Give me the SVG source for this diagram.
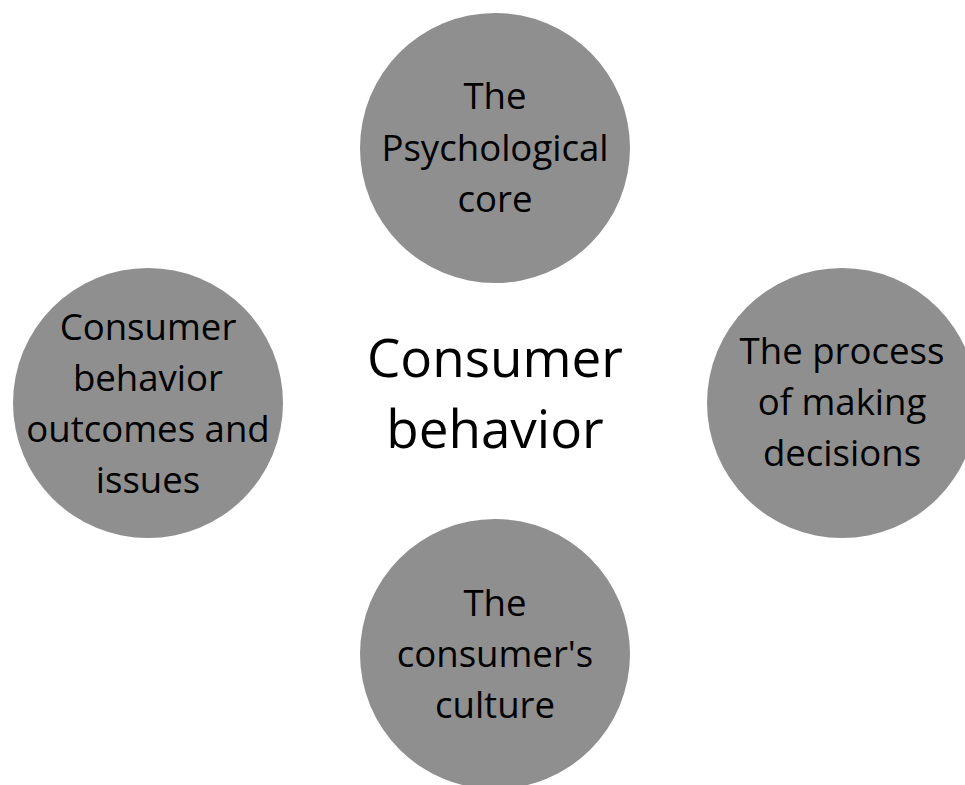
<svg xmlns="http://www.w3.org/2000/svg" width="965" height="785" viewBox="0 0 965 785">
  <style>
    .bubble { fill: #8f8f8f; }
    .label { font-family: "Open Sans", "Noto Sans", sans-serif; font-size: 36.6px; fill: #000; text-anchor: middle; }
    .title { font-family: "Open Sans", "Noto Sans", sans-serif; font-size: 53px; fill: #000; text-anchor: middle; }
  </style>
  <rect width="965" height="785" fill="#ffffff"/>
  <g id="connectors"/>
  <g id="center">
    <text class="title" x="495" y="377">Consumer</text>
    <text class="title" x="495" y="448">behavior</text>
  </g>
  <g id="psychological-core">
    <circle class="bubble" cx="495" cy="148" r="135"/>
    <text class="label" x="495" y="109">The</text>
    <text class="label" x="495" y="161">Psychological</text>
    <text class="label" x="495" y="212">core</text>
  </g>
  <g id="decision-process">
    <circle class="bubble" cx="842" cy="403" r="135"/>
    <text class="label" x="842" y="364">The process</text>
    <text class="label" x="842" y="415">of making</text>
    <text class="label" x="842" y="466">decisions</text>
  </g>
  <g id="outcomes-issues">
    <circle class="bubble" cx="148" cy="403" r="135"/>
    <text class="label" x="148" y="340">Consumer</text>
    <text class="label" x="148" y="391">behavior</text>
    <text class="label" x="148" y="442">outcomes and</text>
    <text class="label" x="148" y="493">issues</text>
  </g>
  <g id="consumer-culture">
    <circle class="bubble" cx="495" cy="654" r="135"/>
    <text class="label" x="495" y="616">The</text>
    <text class="label" x="495" y="667">consumer's</text>
    <text class="label" x="495" y="718">culture</text>
  </g>
</svg>
